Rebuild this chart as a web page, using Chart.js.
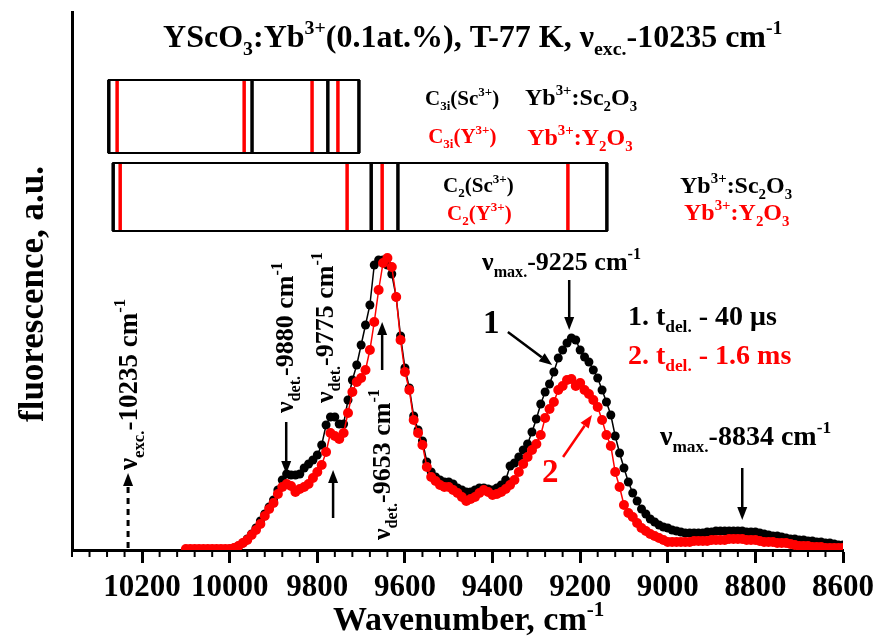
<!DOCTYPE html>
<html>
<head>
<meta charset="utf-8">
<script src="https://cdn.jsdelivr.net/npm/chart.js@4/dist/chart.umd.min.js"></script>
<style>
  body { margin: 0; background: #fff; }
  canvas { display: block; }
</style>
</head>
<body>
<canvas id="chart" width="876" height="637"></canvas>
<script>
// wavenumber grid, cm-1
const wavenumber = [
  10100, 10090, 10080, 10070, 10060, 10050, 10040, 10030, 10020, 10010,
  10000, 9990, 9980, 9970, 9960, 9950, 9940, 9930, 9920, 9910,
  9900, 9890, 9880, 9870, 9860, 9850, 9840, 9830, 9820, 9810,
  9800, 9790, 9780, 9770, 9760, 9750, 9740, 9730, 9720, 9710,
  9700, 9690, 9680, 9670, 9660, 9650, 9640, 9630, 9620, 9610,
  9600, 9590, 9580, 9570, 9560, 9550, 9540, 9530, 9520, 9510,
  9500, 9490, 9480, 9470, 9460, 9450, 9440, 9430, 9420, 9410,
  9400, 9390, 9380, 9370, 9360, 9350, 9340, 9330, 9320, 9310,
  9300, 9290, 9280, 9270, 9260, 9250, 9240, 9230, 9220, 9210,
  9200, 9190, 9180, 9170, 9160, 9150, 9140, 9130, 9120, 9110,
  9100, 9090, 9080, 9070, 9060, 9050, 9040, 9030, 9020, 9010,
  9000, 8990, 8980, 8970, 8960, 8950, 8940, 8930, 8920, 8910,
  8900, 8890, 8880, 8870, 8860, 8850, 8840, 8830, 8820, 8810,
  8800, 8790, 8780, 8770, 8760, 8750, 8740, 8730, 8720, 8710,
  8700, 8690, 8680, 8670, 8660, 8650, 8640, 8630, 8620, 8610,
  8600
];

// 1. t del. - 40 us (black)
const fluo40us = [
  null, null, null, null, null, null, null, null, null, null,
  1, 2, 4, 7, 11, 16, 22, 29, 36, 43,
  50, 60, 70, 76, 75, 75, 76, 82, 86, 90,
  95, 105, 125, 133, 133, 126, 126, 150, 170, 185,
  205, 225, 245, 285, 290, 290, 285, 276, 253, 214,
  182, 162, 134, 120, 109, 88, 78, 73, 70, 68,
  68, 66, 62, 60, 58, 58, 60, 62, 62, 61,
  60, 62, 65, 70, 84, 87, 93, 100, 106, 118,
  131, 146, 158, 166, 178, 192, 200, 207, 212, 210,
  200, 193, 188, 180, 172, 160, 148, 135, 114, 97,
  82, 68, 57, 49, 41, 36, 31, 28, 25, 23,
  22, 20, 19, 18, 17, 17, 17, 17, 17, 18,
  18, 19, 19, 19, 19, 19, 19, 19, 18, 18,
  18, 17, 16, 15, 14, 14, 13, 12, 11, 11,
  10, 10, 9, 9, 8, 8, 7, 7, 6, 5,
  5
];

// 2. t del. - 1.6 ms (red)
const fluo16ms = [
  1, 1, 1, 1, 1, 1, 1, 1, 1, 1,
  1, 2, 4, 7, 10, 15, 20, 26, 34, 41,
  47, 56, 63, 66, 64, 58, 61, 63, 66, 72,
  78, 85, 98, 117, 114, 111, 117, 137, 158, 168,
  172, 180, 200, 228, 260, 287, 292, 283, 253, 210,
  178, 160, 130, 117, 105, 83, 73, 69, 65, 63,
  63, 60, 57, 53, 49, 51, 53, 57, 60, 58,
  55, 56, 58, 61, 65, 70, 78, 86, 93, 100,
  106, 115, 132, 141, 148, 160, 164, 170, 171, 164,
  167, 160, 156, 150, 143, 130, 115, 104, 78, 63,
  45, 37, 33, 27, 22, 19, 16, 14, 12, 10,
  8, 8, 8, 8, 8, 8, 9, 9, 9, 9,
  10, 10, 10, 10, 11, 11, 11, 11, 10, 10,
  10, 9, 8, 8, 8, 7, 7, 7, 6, 5,
  4, 4, 4, 3, 3, 3, 2, 2, 2, 2,
  2
];

const xTicks = [8600, 8800, 9000, 9200, 9400, 9600, 9800, 10000, 10200];

// level diagrams (cm-1) shown in the two boxes
const boxC3iEdges = [10276, 9705];
const boxC3iSc = [9949, 9776];
const boxC3iY = [10257, 9967, 9812, 9753];
const boxC2Edges = [10266, 9139];
const boxC2Sc = [9677, 9616];
const boxC2Y = [10250, 9732, 9652, 9228];

const FONT = '"Liberation Serif", "Times New Roman", serif';
const RED = '#ff0000';

// texts: wn / v are in data units of the chart
const notes = [
  { t: 'YScO_{3}:Yb^{3+}(0.1at.%), T-77 K, ν_{exc.}-10235 cm^{-1}', wn: 10152, v: 503, size: 32, c: '#000' },
  { t: 'C_{3i}(Sc^{3+})', wn: 9554, v: 445, size: 21, c: '#000' },
  { t: 'Yb^{3+}:Sc_{2}O_{3}', wn: 9326, v: 445, size: 24, c: '#000' },
  { t: 'C_{3i}(Y^{3+})', wn: 9547, v: 407, size: 21, c: RED },
  { t: 'Yb^{3+}:Y_{2}O_{3}', wn: 9321, v: 405, size: 24, c: RED },
  { t: 'C_{2}(Sc^{3+})', wn: 9513, v: 358, size: 21, c: '#000' },
  { t: 'C_{2}(Y^{3+})', wn: 9504, v: 330, size: 21, c: RED },
  { t: 'Yb^{3+}:Sc_{2}O_{3}', wn: 8972, v: 357, size: 24, c: '#000' },
  { t: 'Yb^{3+}:Y_{2}O_{3}', wn: 8963, v: 330, size: 24, c: RED },
  { t: 'ν_{exc.}-10235 cm^{-1}', wn: 10212, v: 80, size: 27, c: '#000', vert: true },
  { t: 'ν_{det.}-9880 cm^{-1}', wn: 9855, v: 137, size: 26, c: '#000', vert: true },
  { t: 'ν_{det.}-9775 cm^{-1}', wn: 9764, v: 147, size: 26, c: '#000', vert: true },
  { t: 'ν_{det.}-9653 cm^{-1}', wn: 9634, v: 10, size: 26, c: '#000', vert: true },
  { t: 'ν_{max.}-9225 cm^{-1}', wn: 9424, v: 280, size: 26, c: '#000' },
  { t: 'ν_{max.}-8834 cm^{-1}', wn: 9018, v: 105, size: 28, c: '#000' },
  { t: '1', wn: 9422, v: 217, size: 33, c: '#000' },
  { t: '2', wn: 9287, v: 68, size: 33, c: RED },
  { t: '1. t_{del.} - 40 μs', wn: 9091, v: 225, size: 28, c: '#000' },
  { t: '2. t_{del.} - 1.6 ms', wn: 9091, v: 186, size: 28, c: RED }
];

// arrows: from (wn1,v1) to tip (wn2,v2)
const arrows = [
  { wn1: 10232, v1: 2, wn2: 10232, v2: 77, c: '#000', dash: true },
  { wn1: 9871, v1: 128, wn2: 9871, v2: 76, c: '#000' },
  { wn1: 9764, v1: 32, wn2: 9764, v2: 80, c: '#000' },
  { wn1: 9652, v1: 180, wn2: 9652, v2: 228, c: '#000' },
  { wn1: 9225, v1: 270, wn2: 9225, v2: 220, c: '#000' },
  { wn1: 8830, v1: 82, wn2: 8830, v2: 30, c: '#000' },
  { wn1: 9365, v1: 218, wn2: 9264, v2: 185, c: '#000' },
  { wn1: 9239, v1: 93, wn2: 9173, v2: 135, c: RED }
];

function rich(ctx, str, x, y, size, color, vert) {
  const parts = str.split(/(_\{[^}]*\}|\^\{[^}]*\})/).filter(Boolean);
  ctx.save();
  ctx.translate(x, y);
  if (vert) ctx.rotate(-Math.PI / 2);
  ctx.fillStyle = color;
  ctx.textAlign = 'left';
  ctx.textBaseline = 'alphabetic';
  let cx = 0;
  parts.forEach(function (p) {
    let t = p, s = size, dy = 0;
    if (p[0] === '_') { t = p.slice(2, -1); s = size * 0.62; dy = size * 0.25; }
    else if (p[0] === '^') { t = p.slice(2, -1); s = size * 0.62; dy = -size * 0.42; }
    ctx.font = 'bold ' + s + 'px ' + FONT;
    ctx.fillText(t, cx, dy);
    cx += ctx.measureText(t).width;
  });
  ctx.restore();
}

function arrow(ctx, x1, y1, x2, y2, color, dash) {
  const a = Math.atan2(y2 - y1, x2 - x1);
  const hl = 13, hw = 5;
  ctx.save();
  ctx.strokeStyle = color;
  ctx.fillStyle = color;
  ctx.lineWidth = dash ? 3 : 2.5;
  if (dash) ctx.setLineDash([6, 5]);
  ctx.beginPath();
  ctx.moveTo(x1, y1);
  ctx.lineTo(x2 - Math.cos(a) * hl, y2 - Math.sin(a) * hl);
  ctx.stroke();
  ctx.setLineDash([]);
  ctx.beginPath();
  ctx.moveTo(x2, y2);
  ctx.lineTo(x2 - Math.cos(a) * hl - Math.sin(a) * hw, y2 - Math.sin(a) * hl + Math.cos(a) * hw);
  ctx.lineTo(x2 - Math.cos(a) * hl + Math.sin(a) * hw, y2 - Math.sin(a) * hl - Math.cos(a) * hw);
  ctx.closePath();
  ctx.fill();
  ctx.restore();
}

const extras = {
  id: 'extras',
  afterDraw(chart) {
    const ctx = chart.ctx;
    const xs = chart.scales.x, ys = chart.scales.y;
    const X = v => xs.getPixelForValue(v);
    const Y = v => ys.getPixelForValue(v);
    const area = chart.chartArea;

    // minor ticks on the x axis
    ctx.save();
    ctx.strokeStyle = '#000';
    ctx.lineWidth = 2;
    for (let w = 8600; w <= 10360; w += 40) {
      if (w % 200 === 0) continue;
      ctx.beginPath();
      ctx.moveTo(X(w), area.bottom);
      ctx.lineTo(X(w), area.bottom + 7);
      ctx.stroke();
    }
    ctx.restore();

    // level boxes
    function box(edges, sc, y, top, bottom) {
      ctx.save();
      ctx.strokeStyle = '#000';
      ctx.lineWidth = 2;
      ctx.strokeRect(X(edges[0]), Y(top), X(edges[1]) - X(edges[0]), Y(bottom) - Y(top));
      ctx.lineWidth = 3.5;
      edges.concat(sc).forEach(function (w) {
        ctx.beginPath(); ctx.moveTo(X(w), Y(top)); ctx.lineTo(X(w), Y(bottom)); ctx.stroke();
      });
      ctx.strokeStyle = RED;
      ctx.lineWidth = 3.5;
      y.forEach(function (w) {
        ctx.beginPath(); ctx.moveTo(X(w), Y(top) + 1); ctx.lineTo(X(w), Y(bottom) - 1); ctx.stroke();
      });
      ctx.restore();
    }
    box(boxC3iEdges, boxC3iSc, boxC3iY, 470, 397);
    box(boxC2Edges, boxC2Sc, boxC2Y, 387, 319);

    arrows.forEach(a => arrow(ctx, X(a.wn1), Y(a.v1), X(a.wn2), Y(a.v2), a.c, a.dash));
    notes.forEach(n => rich(ctx, n.t, X(n.wn), Y(n.v), n.size, n.c, n.vert));

    // axis titles
    rich(ctx, 'Wavenumber, cm^{-1}', 333, 630, 34, '#000', false);
    ctx.save();
    ctx.translate(43, 294);
    ctx.rotate(-Math.PI / 2);
    ctx.font = 'bold 35px ' + FONT;
    ctx.fillStyle = '#000';
    ctx.textAlign = 'center';
    ctx.fillText('fluorescence, a.u.', 0, 0);
    ctx.restore();
  }
};

new Chart(document.getElementById('chart'), {
  type: 'line',
  data: {
    labels: wavenumber,
    datasets: [
      {
        label: '2. t del. - 1.6 ms',
        data: fluo16ms,
        borderColor: RED,
        backgroundColor: RED,
        borderWidth: 1.5,
        pointRadius: 5,
        pointBorderWidth: 0,
        pointBackgroundColor: RED,
        tension: 0
      },
      {
        label: '1. t del. - 40 us',
        data: fluo40us,
        borderColor: '#000',
        backgroundColor: '#000',
        borderWidth: 1.5,
        pointRadius: 4.5,
        pointBorderWidth: 0,
        pointBackgroundColor: '#000',
        tension: 0
      }
    ]
  },
  options: {
    responsive: false,
    animation: false,
    layout: { padding: { top: 12, right: 33, left: 0, bottom: 0 } },
    plugins: { legend: { display: false }, tooltip: { enabled: false } },
    scales: {
      x: {
        type: 'linear',
        reverse: true,
        min: 8600,
        max: 10360,
        border: { display: true, width: 3, color: '#000' },
        grid: { display: true, drawOnChartArea: false, drawTicks: true, tickLength: 13, tickWidth: 3, tickColor: '#000' },
        afterBuildTicks: s => { s.ticks = xTicks.map(v => ({ value: v })); },
        ticks: {
          autoSkip: false,
          maxRotation: 0,
          padding: 6,
          color: '#000',
          font: { family: FONT, weight: 'bold', size: 31 },
          callback: v => String(v)
        },
        afterFit: s => { s.height = 87; s.paddingLeft = 0; s.paddingRight = 0; }
      },
      y: {
        min: 0,
        max: 538,
        border: { display: true, width: 3, color: '#000' },
        grid: { display: false },
        ticks: { display: false },
        afterFit: s => { s.width = 72; }
      }
    }
  },
  plugins: [extras]
});
</script>
</body>
</html>
